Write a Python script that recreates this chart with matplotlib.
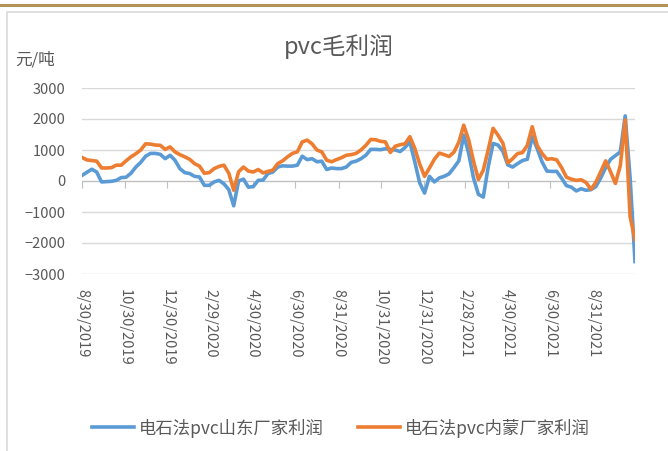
import pandas as pd
import matplotlib
matplotlib.use("Agg")
import matplotlib.pyplot as plt
from matplotlib.lines import Line2D
from matplotlib.patches import Rectangle

plt.rcParams['font.family'] = ['Noto Sans CJK SC', 'DejaVu Sans']

# weekly data, Fridays from 2019-08-30
dates = pd.date_range('2019-08-30', periods=114, freq='7D')

shandong = [180, 280, 380, 290, -30, -20, -10, 20, 110, 120,
            250, 450, 600, 800, 890, 890, 860, 720, 830, 670,
            400, 270, 240, 150, 130, -140, -140, -30, 20, -90,
            -280, -800, 0, 60, -200, -180, 20, 30, 240, 290,
            450, 490, 480, 480, 510, 800, 690, 720, 620, 640,
            370, 420, 400, 400, 450, 600, 640, 720, 830, 1020,
            1020, 1010, 1040, 1020, 1000, 950, 1080, 1260, 620, -60,
            -390, 150, -30, 100, 150, 230, 430, 650, 1480, 900,
            100, -430, -520, 450, 1210, 1160, 960, 520, 450, 560,
            660, 700, 1430, 1050, 620, 320, 310, 310, 90, -150,
            -200, -320, -250, -300, -280, -180, 100, 430, 700, 820,
            940, 2100, 100, -2600]

neimeng = [760, 680, 660, 640, 420, 420, 430, 510, 510, 650,
           780, 880, 1000, 1200, 1190, 1160, 1150, 1020, 1100, 940,
           850, 780, 700, 560, 480, 250, 270, 400, 470, 510,
           250, -300, 300, 450, 320, 290, 370, 260, 310, 350,
           560, 650, 780, 890, 940, 1260, 1320, 1200, 1000, 940,
           670, 620, 690, 750, 830, 850, 890, 1000, 1150, 1340,
           1330, 1280, 1260, 920, 1120, 1170, 1200, 1430, 1050, 550,
           150, 420, 700, 900, 850, 790, 930, 1250, 1800, 1330,
           640, 50, 350, 1000, 1700, 1480, 1220, 580, 720, 885,
           915, 1150, 1750, 1150, 890, 700, 720, 680, 430, 120,
           60, 20, 40, -50, -270, -40, 300, 650, 300, -80,
           500, 1970, -1150, -1900]

tick_dates = pd.to_datetime(['2019-08-30', '2019-10-30', '2019-12-30', '2020-02-29',
                             '2020-04-30', '2020-06-30', '2020-08-31', '2020-10-31',
                             '2020-12-31', '2021-02-28', '2021-04-30', '2021-06-30',
                             '2021-08-31'])
tick_labels = [f"{d.month}/{d.day}/{d.year}" for d in tick_dates]

W, H = 668, 451
fig = plt.figure(figsize=(W / 100, H / 100), dpi=100)

# decorations: gold rule on top, light frame round the chart
fig.add_artist(Line2D([0, 1], [1 - 5 / H, 1 - 5 / H], color='#B39257', lw=2.2,
                      transform=fig.transFigure))
fig.add_artist(Rectangle((7 / W, -0.05), 1.1, 1 - 12 / H + 0.05, transform=fig.transFigure,
                         fill=False, edgecolor='#D9D9D9', lw=1.2))

ax = fig.add_axes([82 / W, 1 - 274 / H, (635 - 82) / W, (274 - 88) / H])
grey = '#595959'

ax.plot(dates, shandong, color='#5B9BD5', lw=2.6, label='电石法pvc山东厂家利润', zorder=3)
ax.plot(dates, neimeng, color='#ED7D31', lw=2.6, label='电石法pvc内蒙厂家利润', zorder=4)

ax.set_ylim(-3000, 3000)
ax.set_yticks(range(-3000, 3001, 1000))
ax.set_xlim(dates[0], dates[-1])
ax.grid(axis='y', color='#D9D9D9', lw=1)
ax.set_axisbelow(True)
for s in ['top', 'right', 'left']:
    ax.spines[s].set_visible(False)
ax.spines['bottom'].set_position(('data', 0))
ax.spines['bottom'].set_color('#BFBFBF')
ax.tick_params(axis='y', length=0, pad=12, labelsize=10.5, labelcolor=grey)
ax.set_xticks(tick_dates)
ax.tick_params(axis='x', length=5, color='#BFBFBF', labelbottom=False)

sec = ax.secondary_xaxis('bottom')
sec.set_xticks(tick_dates)
sec.set_xticklabels(tick_labels, rotation=270, fontsize=10.5, color=grey)
sec.tick_params(length=0, pad=11)
sec.spines['bottom'].set_visible(False)

fig.text(339 / W, 1 - 47 / H, 'pvc毛利润', ha='center', va='center', fontsize=17, color=grey)
fig.text(15 / W, 1 - 60 / H, '元/吨', ha='left', va='center', fontsize=12, color=grey)

fig.legend(loc='center', bbox_to_anchor=(341 / W, 1 - 428 / H), ncol=2, frameon=False,
           fontsize=12.5, labelcolor=grey, handlelength=2.4, handletextpad=0.3,
           columnspacing=2.0)

fig.savefig('out.png', dpi=100)
